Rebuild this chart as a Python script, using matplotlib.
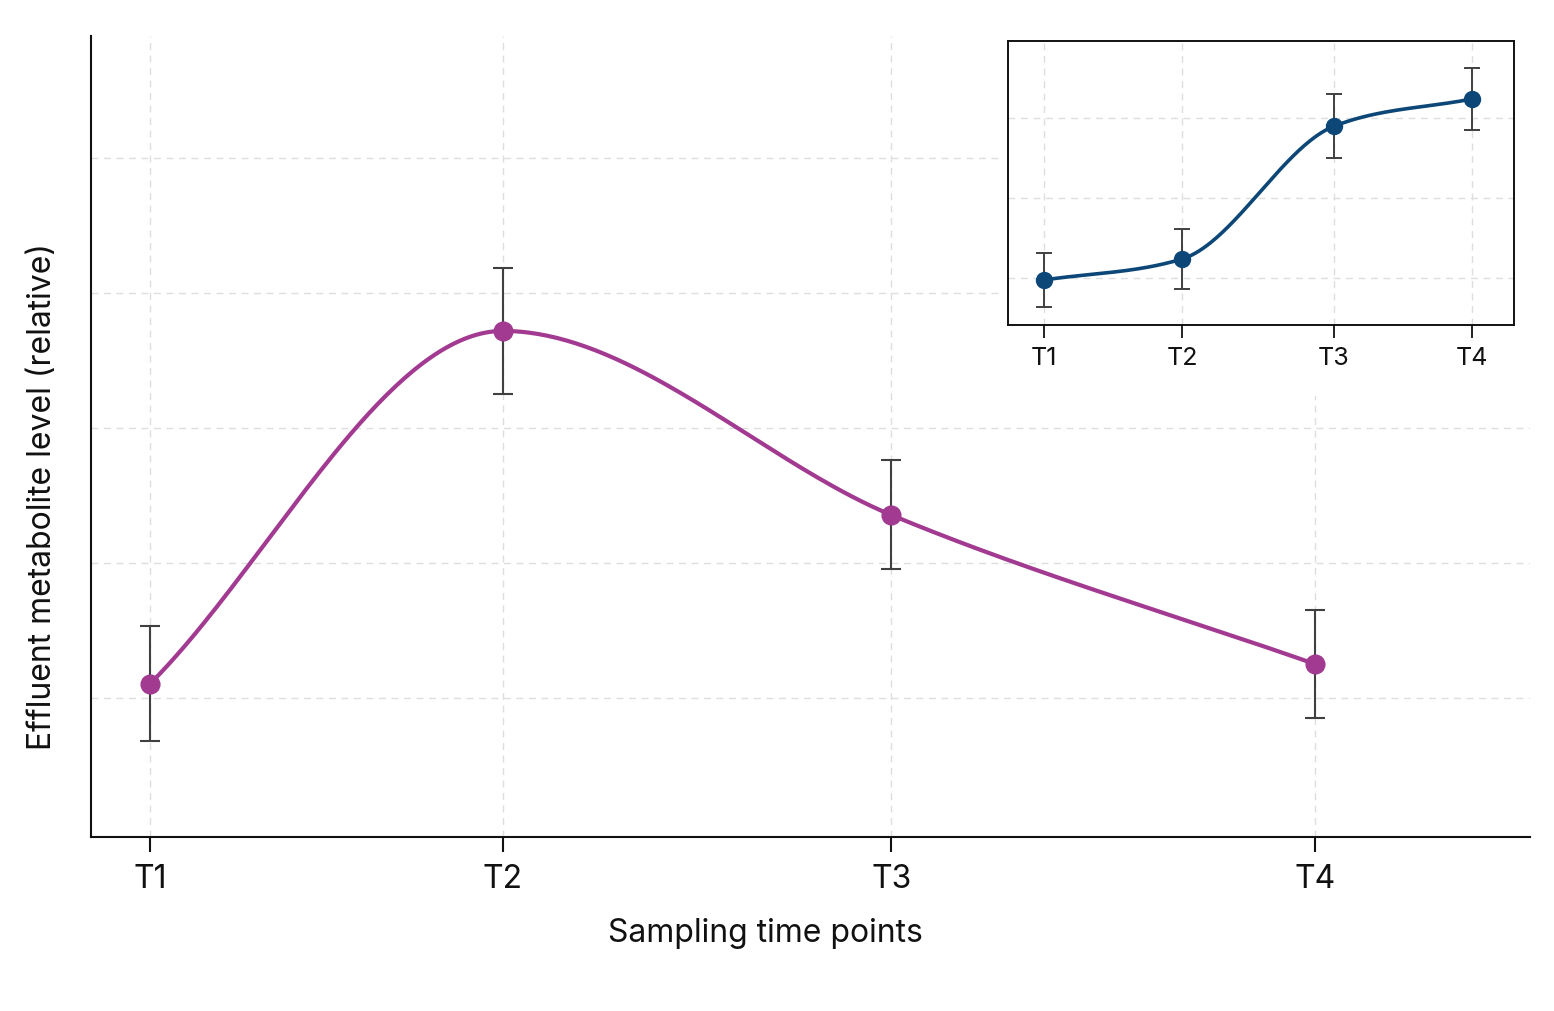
import numpy as np
import matplotlib
matplotlib.use("Agg")
import matplotlib.pyplot as plt
from matplotlib.patches import Rectangle

plt.rcParams['font.family'] = ['Inter', 'DejaVu Sans']

# ---- data ----
labels = ["T1", "T2", "T3", "T4"]
main_x = [0, 10, 21, 33]
main_y = [1.104, 3.719, 2.356, 1.252]
main_err = [0.426, 0.467, 0.404, 0.40]

inset_x = [0, 10, 21, 31]
inset_y = [0.975, 1.2375, 2.896, 3.2375]
inset_err = [0.34, 0.37, 0.40, 0.39]

main_color = "#a13a90"
inset_color = "#0d4777"
err_color = "#404040"
grid_color = "#dedede"


def smooth_path(xs, ys, n=80):
    """Monotone cubic Hermite path; end tangents follow the end chords."""
    xs = np.asarray(xs, float)
    ys = np.asarray(ys, float)
    k = len(xs)
    h = np.diff(xs)
    s = np.diff(ys) / h
    t = np.zeros(k)
    for i in range(1, k - 1):
        s0, s1 = s[i - 1], s[i]
        p = (s0 * h[i] + s1 * h[i - 1]) / (h[i - 1] + h[i])
        t[i] = (np.sign(s0) + np.sign(s1)) * min(abs(s0), abs(s1), 0.5 * abs(p))
    t[0] = s[0]
    t[-1] = s[-1]
    px, py = [], []
    u = np.linspace(0, 1, n)
    for i in range(k - 1):
        hi = h[i]
        h00 = 2 * u ** 3 - 3 * u ** 2 + 1
        h10 = u ** 3 - 2 * u ** 2 + u
        h01 = -2 * u ** 3 + 3 * u ** 2
        h11 = u ** 3 - u ** 2
        px.extend(xs[i] + u * hi)
        py.extend(h00 * ys[i] + h10 * hi * t[i] + h01 * ys[i + 1] + h11 * hi * t[i + 1])
    return np.array(px), np.array(py)


W, H = 1554, 1012
fig = plt.figure(figsize=(W / 100, H / 100), dpi=100)
fig.patch.set_facecolor("white")

# ---- main axes ----
ax = fig.add_axes([91 / W, (H - 838) / H, (1530 - 91) / W, (838 - 37) / H])
ax.set_zorder(0)
ax.set_xlim(-1.67, 39.1)
ax.set_ylim(-0.03, 5.904)
ax.set_xticks(main_x)
ax.set_xticklabels(labels)
ax.set_yticks([1, 2, 3, 4, 5])
ax.tick_params(axis="y", left=False, labelleft=False)
ax.tick_params(axis="x", length=11, width=1.5, pad=8, labelsize=23, colors="#111111")
for side in ["top", "right"]:
    ax.spines[side].set_visible(False)
for side in ["left", "bottom"]:
    ax.spines[side].set_linewidth(1.5)
    ax.spines[side].set_color("#111111")
ax.grid(True, linestyle=(0, (5, 4)), color=grid_color, linewidth=1)
ax.set_axisbelow(True)

cx, cy = smooth_path(main_x, main_y)
ax.plot(cx, cy, color=main_color, lw=3.0, zorder=3, solid_capstyle="round")
ax.errorbar(main_x, main_y, yerr=main_err, fmt="none", ecolor=err_color,
            elinewidth=1.5, capsize=7, capthick=1.5, zorder=4)
ax.plot(main_x, main_y, "o", color=main_color, markersize=13.5, zorder=5)

ax.set_xlabel("Sampling time points", fontsize=23, color="#111111")
ax.xaxis.set_label_coords((765 - 91) / 1439, (838 - 918) / 801)
ax.set_ylabel("Effluent metabolite level (relative)", fontsize=23, color="#111111")
ax.yaxis.set_label_coords((58 - 91) / 1439, (838 - 496.5) / 801)

# white backing behind inset (hides main grid there)
fig.add_artist(Rectangle((1000 / W, (H - 397) / H), 540 / W, 397 / H,
                         transform=fig.transFigure, facecolor="white",
                         edgecolor="none", zorder=1))

# ---- inset axes ----
ins = fig.add_axes([1008 / W, (H - 326) / H, (1514 - 1008) / W, (326 - 42) / H])
ins.set_zorder(2)
ins.set_xlim(-2.61, 34.06)
ins.set_ylim(0.4125, 3.9625)
ins.set_xticks(inset_x)
ins.set_xticklabels(labels)
ins.set_yticks([1, 2, 3])
ins.tick_params(axis="y", left=False, labelleft=False)
ins.tick_params(axis="x", length=9, width=1.3, pad=6, labelsize=18, colors="#111111")
for side in ins.spines.values():
    side.set_linewidth(1.4)
    side.set_color("#111111")
ins.grid(True, linestyle=(0, (5, 4)), color=grid_color, linewidth=1)
ins.set_axisbelow(True)

ix, iy = smooth_path(inset_x, inset_y)
ins.plot(ix, iy, color=inset_color, lw=2.6, zorder=3)
ins.errorbar(inset_x, inset_y, yerr=inset_err, fmt="none", ecolor=err_color,
             elinewidth=1.4, capsize=6, capthick=1.4, zorder=4)
ins.plot(inset_x, inset_y, "o", color=inset_color, markersize=11.5, zorder=5)

fig.savefig("out.png", dpi=100, facecolor="white")
